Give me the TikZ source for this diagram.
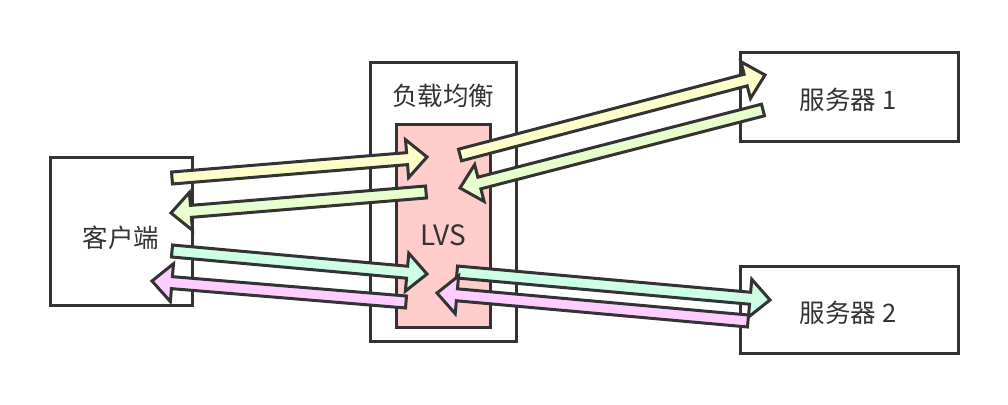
\documentclass[tikz,border=0pt]{standalone}
\usepackage{fontspec}
\newfontfamily\cjk{Noto Sans CJK SC}
\usetikzlibrary{calc}
\definecolor{ink}{HTML}{333333}
\definecolor{cyellow}{HTML}{FFFFCC}
\definecolor{cgreen}{HTML}{E6FFCC}
\definecolor{cmint}{HTML}{CCFFE6}
\definecolor{cpink}{HTML}{FFCCFF}
\definecolor{clvs}{HTML}{FFCCCC}
\tikzset{
  boxstyle/.style={draw=ink, line width=3pt, fill=white, inner sep=0pt},
  lbl/.style={text=ink, font=\cjk\fontsize{25.5}{30}\selectfont, inner sep=0pt},
  barrowstyle/.style={draw=ink, line width=3pt, line join=miter},
}
\newcommand\blockarr[4]{%
  \coordinate (#1t) at #3;
  \coordinate (#1h) at #4;
  \coordinate (#1c) at ($(#1h)!20pt!(#1t)$);
  \draw[barrowstyle, fill=#2] ($(#1t)!6pt!90:(#1h)$) -- ($(#1c)!6pt!90:(#1h)$) -- ($(#1c)!19pt!90:(#1h)$) -- (#1h) -- ($(#1c)!19pt!-90:(#1h)$) -- ($(#1c)!6pt!-90:(#1h)$) -- ($(#1t)!6pt!-90:(#1h)$) -- cycle;}
\begin{document}
\begin{tikzpicture}[x=1pt,y=-1pt]
\useasboundingbox[fill=white] (0,0) rectangle (1008,404);
\node[boxstyle, minimum width=142pt, minimum height=148pt] (client) at (121,231) {};
\node[lbl] (clientl) at (121,238) {客户端};
\node[boxstyle, minimum width=146pt, minimum height=279pt] (lb) at (443,201.5) {};
\node[lbl] (lbl1) at (443,96) {负载均衡};
\node[boxstyle, fill=clvs, minimum width=94pt, minimum height=203pt] (lvs) at (443,225.5) {};
\node[lbl, font=\cjk\fontsize{28}{32}\selectfont] (lvsl) at (443.5,235) {LVS};
\node[boxstyle, minimum width=218pt, minimum height=88pt] (s1) at (849,97) {};
\node[lbl] (s1l) at (848,100) {服务器 1};
\node[boxstyle, minimum width=218pt, minimum height=87pt] (s2) at (849,309.5) {};
\node[lbl] (s2l) at (848,313) {服务器 2};
% client <-> LVS
\blockarr{a1}{cyellow}{(172,178)}{(427,157)}
\blockarr{a2}{cgreen}{(426,192)}{(171,213)}
\blockarr{a3}{cmint}{(172,251)}{(427,274)}
\blockarr{a4}{cpink}{(406,302)}{(152,281)}
% LVS <-> servers
\blockarr{b1}{cyellow}{(460,155)}{(765,75)}
\blockarr{b2}{cgreen}{(763,110)}{(460,188)}
\blockarr{b3}{cmint}{(457,272)}{(770,300)}
\blockarr{b4}{cpink}{(748,321)}{(437,293)}
\end{tikzpicture}
\end{document}
